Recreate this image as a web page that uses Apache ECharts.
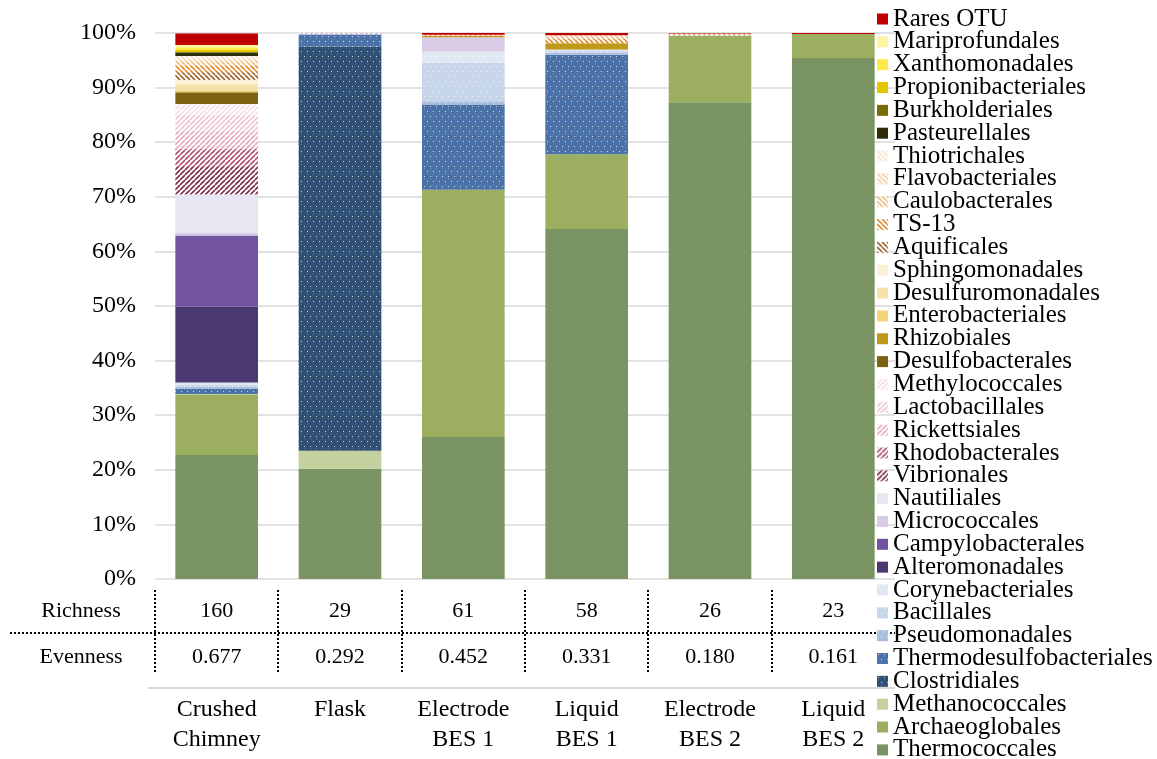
<!DOCTYPE html>
<html>
<head>
<meta charset="utf-8">
<script src="https://cdn.jsdelivr.net/npm/echarts@6/dist/echarts.min.js"></script>
<style>
html,body{margin:0;padding:0;background:#fff;}
#main{width:1157px;height:759px;}
</style>
</head>
<body>
<div id="main"></div>
<script>
// ---- DATA ----
const categories = ['Crushed\nChimney', 'Flask', 'Electrode\nBES 1', 'Liquid\nBES 1', 'Electrode\nBES 2', 'Liquid\nBES 2'];
const richness = ['160', '29', '61', '58', '26', '23'];
const evenness = ['0.677', '0.292', '0.452', '0.331', '0.180', '0.161'];
const yTicks = [0, 10, 20, 30, 40, 50, 60, 70, 80, 90, 100];

// taxa in stacking order (bottom -> top)
const taxa = ['Thermococcales', 'Archaeoglobales', 'Methanococcales', 'Clostridiales', 'Thermodesulfobacteriales',
  'Pseudomonadales', 'Bacillales', 'Corynebacteriales', 'Alteromonadales', 'Campylobacterales',
  'Micrococcales', 'Nautiliales', 'Vibrionales', 'Rhodobacterales', 'Rickettsiales',
  'Lactobacillales', 'Methylococcales', 'Desulfobacterales', 'Rhizobiales', 'Enterobacteriales',
  'Desulfuromonadales', 'Sphingomonadales', 'Aquificales', 'TS-13', 'Caulobacterales',
  'Flavobacteriales', 'Thiotrichales', 'Pasteurellales', 'Burkholderiales', 'Propionibacteriales',
  'Xanthomonadales', 'Mariprofundales', 'Rares OTU'];

// relative abundance (%) per sample, same order as taxa
const crushedChimney = [22.7, 11.0, 0.2, 0, 0.9, 0.4, 0.4, 0.4, 13.9, 13.0, 0.5, 7.0, 5.2, 3.2, 3.2, 3.0, 2.0, 2.1, 0.2, 0.2, 1.1, 0.8, 1.4, 1.3, 0.6, 0.6, 0.5, 0.6, 0.1, 0.4, 0.5, 0.4, 2.1];
const flask          = [20.2, 0, 3.3, 74.0, 2.2, 0.1, 0, 0, 0, 0, 0, 0, 0, 0, 0.2, 0, 0, 0, 0, 0, 0, 0, 0, 0, 0, 0, 0, 0, 0, 0, 0, 0, 0];
const electrodeBES1  = [26.0, 45.3, 0, 0, 15.6, 0.6, 7.0, 2.1, 0, 0, 2.6, 0, 0, 0, 0, 0, 0, 0, 0.3, 0, 0, 0, 0, 0.2, 0, 0, 0, 0, 0, 0, 0, 0, 0.3];
const liquidBES1     = [64.1, 13.7, 0, 0, 18.2, 0.4, 0.3, 0.2, 0, 0, 0.1, 0, 0, 0, 0, 0, 0, 0, 1.1, 0, 0, 0, 0, 0.8, 0.5, 0.2, 0, 0, 0, 0, 0, 0, 0.4];
const electrodeBES2  = [87.3, 12.2, 0, 0, 0, 0, 0, 0, 0, 0, 0, 0, 0, 0.1, 0, 0, 0, 0, 0, 0, 0, 0.1, 0, 0.2, 0, 0, 0, 0, 0, 0, 0, 0, 0.1];
const liquidBES2     = [95.4, 4.4, 0, 0, 0, 0, 0, 0, 0, 0, 0, 0, 0, 0, 0, 0, 0, 0, 0, 0, 0, 0, 0, 0, 0, 0, 0, 0, 0, 0, 0, 0, 0.2];
const samples = [crushedChimney, flask, electrodeBES1, liquidBES1, electrodeBES2, liquidBES2];

// ---- STYLES (same order as taxa) ----
const taxaColors = ['#7a9362', '#9caf60', '#c3d19e', '#2f4f74', '#4a72a8',
  '#a8bedc', '#c6d5e9', '#dfe7f2', '#4b3870', '#7253a0',
  '#d7cbe5', '#e8e6f2', '#7e2d4b', '#b0506f', '#e6a9bd',
  '#efc4d2', '#f6dde6', '#7f6113', '#bf9a1a', '#f2d47a',
  '#f6e2a8', '#fbf1d5', '#a0632a', '#e08a2a', '#f4b97c',
  '#f8caa0', '#fbe0c8', '#2d2d08', '#7a6b05', '#e3c700',
  '#ffe94a', '#fff2a0', '#c00000'];
const taxaFill = ['solid', 'solid', 'solid', 'dot', 'dot',
  'dot', 'dot', 'dot', 'solid', 'solid',
  'solid', 'solid', 'fwd', 'fwd', 'fwd',
  'fwd', 'fwd', 'solid', 'solid', 'solid',
  'solid', 'solid', 'back', 'back', 'back',
  'back', 'back', 'solid', 'solid', 'solid',
  'solid', 'solid', 'solid'];

const FONT = '"Liberation Serif", "Times New Roman", serif';

function makeFill(color, kind) {
  if (kind === 'solid') return color;
  const c = document.createElement('canvas');
  const ctx = c.getContext('2d');
  if (kind === 'dot') {
    c.width = 6; c.height = 10;
    ctx.fillStyle = color; ctx.fillRect(0, 0, 6, 10);
    ctx.fillStyle = 'rgba(255,255,255,0.75)';
    ctx.fillRect(1, 1, 1, 1);
    ctx.fillRect(4, 6, 1, 1);
    ctx.fillStyle = 'rgba(255,255,255,0.12)';
    ctx.fillRect(1, 3, 1, 2);
    ctx.fillRect(4, 8, 1, 2);
  } else {
    const s = 5;
    c.width = s; c.height = s;
    ctx.fillStyle = '#ffffff'; ctx.fillRect(0, 0, s, s);
    ctx.strokeStyle = color; ctx.lineWidth = 1.6;
    ctx.beginPath();
    for (let k = -s; k <= s; k += s) {
      if (kind === 'back') { ctx.moveTo(k, 0); ctx.lineTo(k + s, s); }
      else { ctx.moveTo(k, s); ctx.lineTo(k + s, 0); }
    }
    ctx.stroke();
  }
  return { image: c, repeat: 'repeat' };
}

const series = taxa.map((name, i) => ({
  name: name,
  type: 'bar',
  stack: 'total',
  barWidth: '67%',
  xAxisIndex: 0,
  yAxisIndex: 0,
  data: samples.map(s => s[i]),
  itemStyle: { color: makeFill(taxaColors[i], taxaFill[i]) },
  emphasis: { disabled: true }
}));

const chart = echarts.init(document.getElementById('main'), null, { renderer: 'canvas' });

const option = {
  animation: false,
  backgroundColor: '#ffffff',
  grid: { left: 155, right: 262, top: 33, bottom: 180 },
  legend: {
    orient: 'vertical',
    left: 877,
    top: 6.5,
    height: 800,
    padding: 0,
    itemWidth: 11,
    itemHeight: 11,
    itemGap: -2.16,
    icon: 'rect',
    selectedMode: false,
    data: taxa.slice().reverse(),
    textStyle: { fontFamily: FONT, fontSize: 25, color: '#000' }
  },
  xAxis: [
    {
      type: 'category', data: categories, position: 'bottom',
      axisLine: { show: false }, axisTick: { show: false },
      axisLabel: { margin: 116, fontFamily: FONT, fontSize: 24, lineHeight: 30, color: '#000', interval: 0 }
    },
    {
      type: 'category', data: richness, position: 'bottom',
      axisLine: { show: false }, axisTick: { show: false }, splitLine: { show: false },
      axisLabel: { margin: 21, fontFamily: FONT, fontSize: 22, color: '#000', interval: 0 }
    },
    {
      type: 'category', data: evenness, position: 'bottom',
      axisLine: { show: false }, axisTick: { show: false }, splitLine: { show: false },
      axisLabel: { margin: 67, fontFamily: FONT, fontSize: 22, color: '#000', interval: 0 }
    }
  ],
  yAxis: {
    type: 'value', min: yTicks[0], max: yTicks[yTicks.length - 1], interval: 10,
    axisLine: { show: false }, axisTick: { show: false },
    axisLabel: { formatter: '{value}%', margin: 19, fontFamily: FONT, fontSize: 24, color: '#000' },
    splitLine: { lineStyle: { color: '#d9d9d9', width: 1.5 } }
  },
  series: series
};
chart.setOption(option);

// Table lines and row labels, positioned from the chart's own scales
(function drawTable() {
  const y0 = chart.convertToPixel({ yAxisIndex: 0 }, 0);
  const c0 = chart.convertToPixel({ xAxisIndex: 0 }, 0);
  const c1 = chart.convertToPixel({ xAxisIndex: 0 }, 1);
  const band = c1 - c0;
  const left = c0 - band / 2;
  const right = left + band * categories.length;
  const dotted = { stroke: '#000', lineWidth: 2, lineDash: [2, 2] };
  const g = [];
  for (let i = 0; i < categories.length; i++) {
    const x = Math.round(left + i * band);
    g.push({ type: 'line', silent: true, shape: { x1: x, y1: y0 + 11, x2: x, y2: y0 + 94 }, style: dotted });
  }
  g.push({ type: 'line', silent: true, shape: { x1: 10, y1: y0 + 54, x2: right, y2: y0 + 54 }, style: dotted });
  g.push({ type: 'line', silent: true, shape: { x1: left - 7, y1: y0 + 109, x2: right, y2: y0 + 109 }, style: { stroke: '#d9d9d9', lineWidth: 2 } });
  const rowLabels = ['Richness', 'Evenness'];
  const rowOffsets = [32, 78];
  rowLabels.forEach((t, i) => {
    g.push({ type: 'text', silent: true, style: { text: t, x: 81, y: y0 + rowOffsets[i], textAlign: 'center', textVerticalAlign: 'middle', font: '22px ' + FONT, fill: '#000' } });
  });
  chart.setOption({ graphic: g });
})();
</script>
</body>
</html>
